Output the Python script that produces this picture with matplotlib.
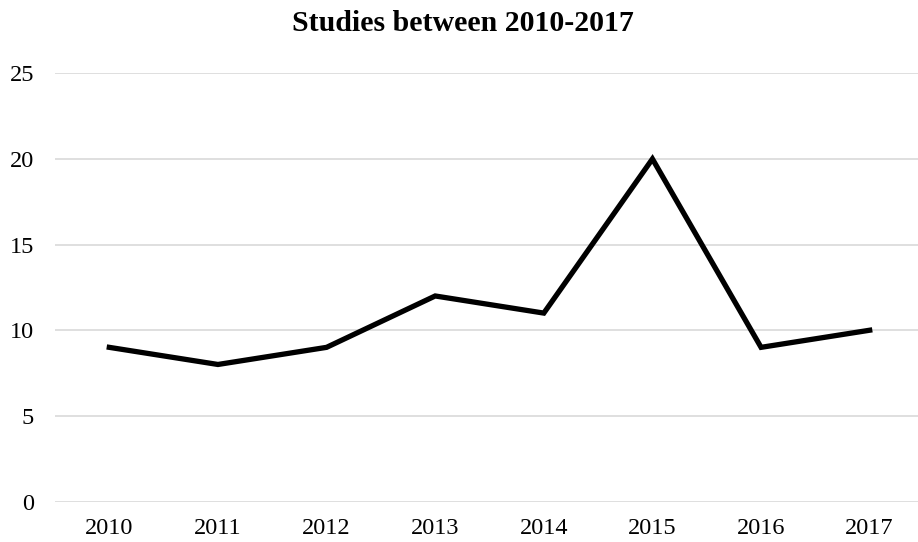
import matplotlib
matplotlib.use("Agg")
import matplotlib.pyplot as plt

years = ["2010", "2011", "2012", "2013", "2014", "2015", "2016", "2017"]
studies = [9, 8, 9, 12, 11, 20, 9, 10]
y_ticks = [0, 5, 10, 15, 20, 25]

plt.rcParams['font.family'] = ['Liberation Serif', 'DejaVu Serif']

fig = plt.figure(figsize=(9.18, 5.42), dpi=100)
W, H = 918, 542
left, right = 55, 924
bottom, top = 501.5, 73.3
ax = fig.add_axes([left / W, 1 - bottom / H, (right - left) / W, (bottom - top) / H])

x = list(range(len(years)))
ax.plot(x, studies, color="black", linewidth=3.8, solid_joinstyle="miter", zorder=3)

ax.set_xlim(-0.5, len(years) - 0.5)
ax.set_ylim(0, 25)
ax.set_yticks(y_ticks)
ax.set_xticks(x)
ax.set_xticklabels(years)
ax.grid(axis="y", color="#d9d9d9", linewidth=1.2)
ax.set_axisbelow(True)
for s in ax.spines.values():
    s.set_visible(False)
ax.tick_params(axis="both", length=0, labelsize=17.5, colors="black")
ax.tick_params(axis="y", pad=15)
ax.tick_params(axis="x", pad=12)

fig.text(463 / W, 1 - 23.5 / H, "Studies between 2010-2017", ha="center", va="center",
         fontsize=21.5, fontweight="bold")

fig.savefig("out.png", dpi=100)
